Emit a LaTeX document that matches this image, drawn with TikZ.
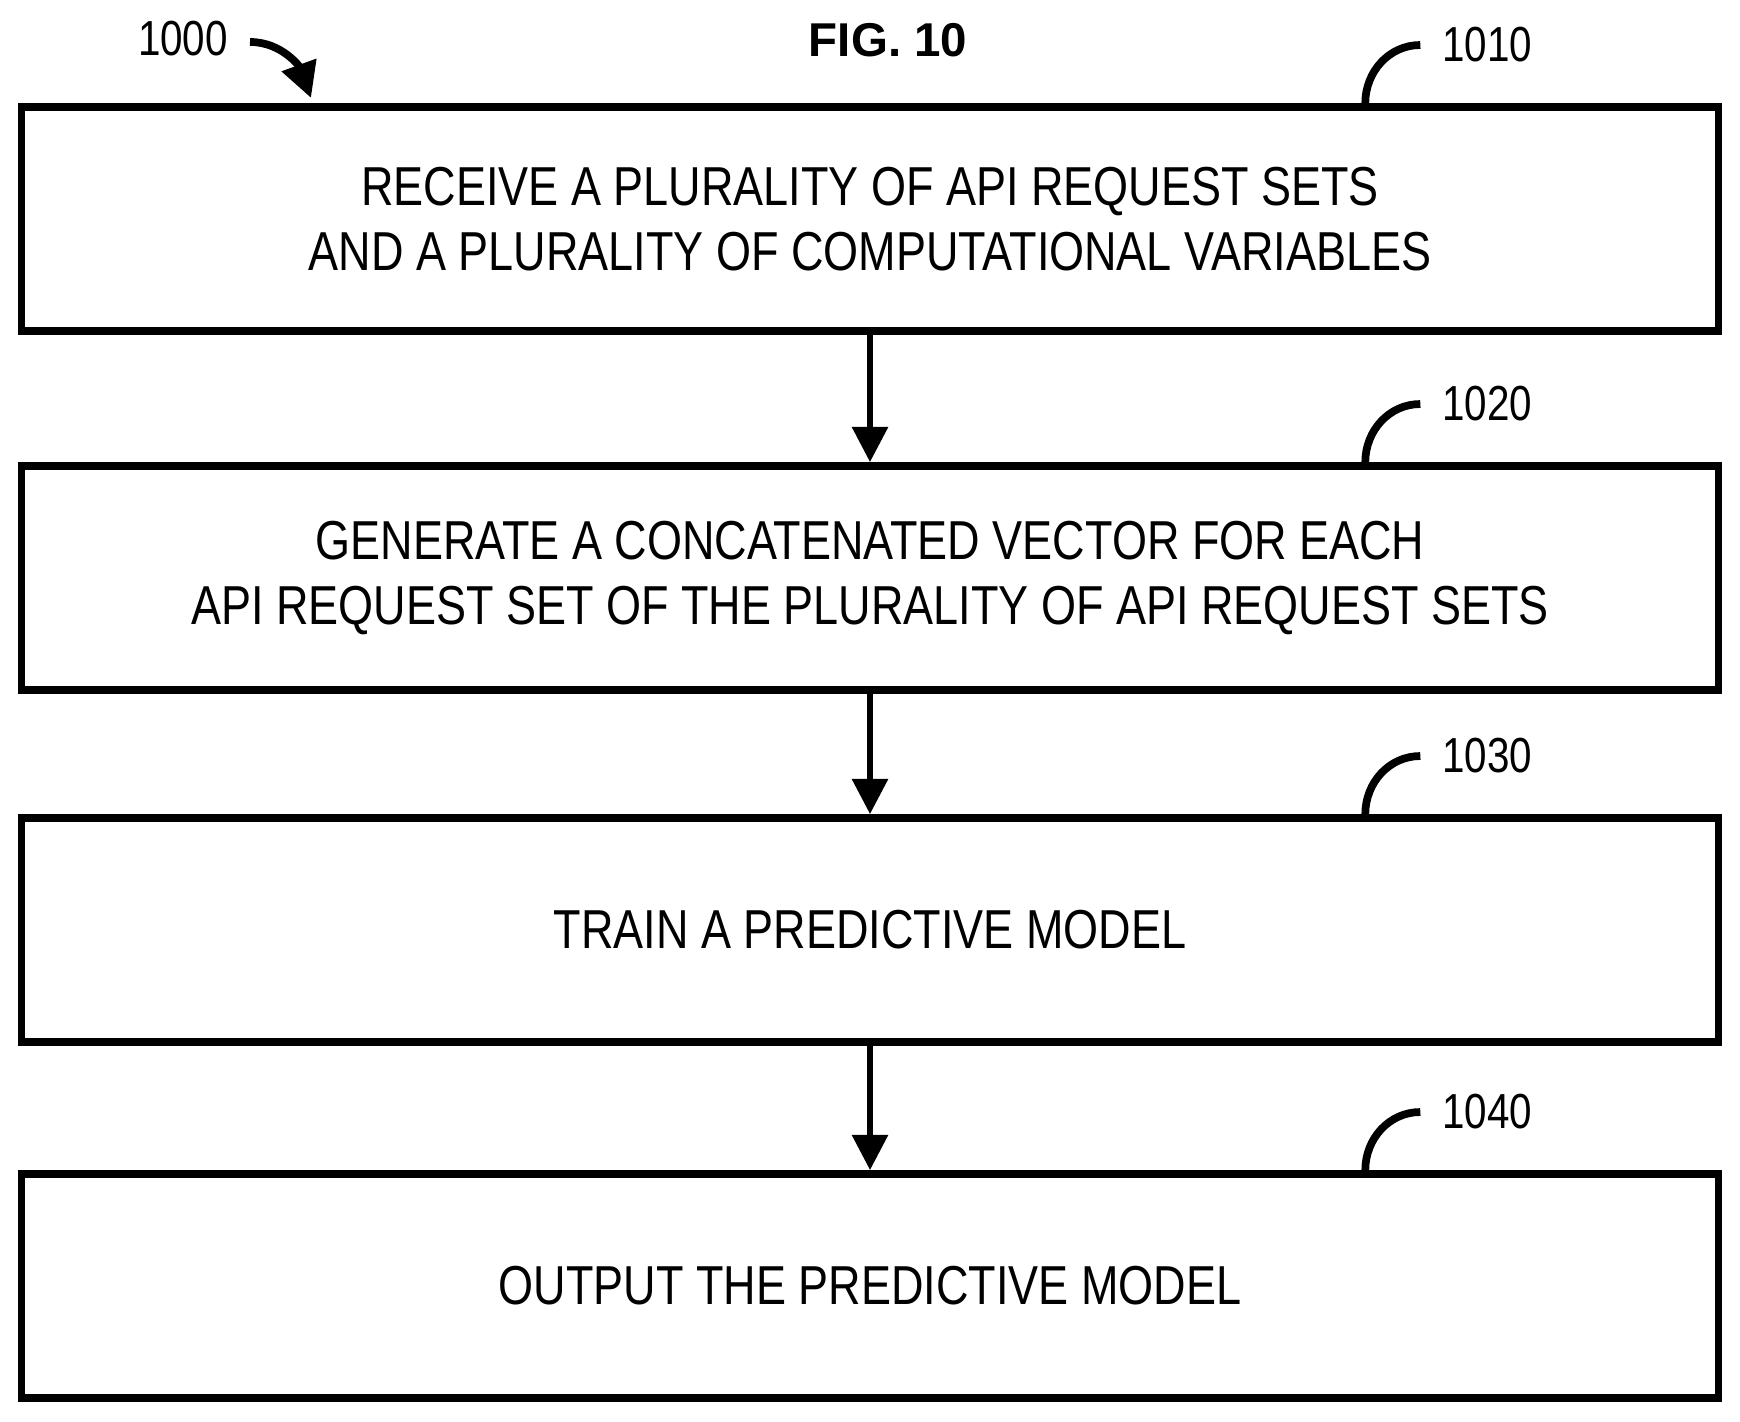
\documentclass[tikz,border=0pt]{standalone}
\usepackage{fontspec}
\setmainfont{Liberation Sans}[FakeStretch=0.82]
\newfontfamily\figfont{Liberation Sans}
\usetikzlibrary{positioning,arrows.meta}
\begin{document}
\begin{tikzpicture}[
  x=0.01cm, y=-0.01cm,
  stepbox/.style={draw=black, line width=2.2pt, minimum width=16.96cm, minimum height=2.24cm,
    inner sep=0pt, align=center, font=\fontsize{15.6}{18.6}\selectfont},
  arrow/.style={-{Triangle[length=10pt,width=10pt]}, line width=1.6pt},
  hook/.style={line width=2.2pt},
  lbl/.style={font=\fontsize{14}{16}\selectfont, inner sep=0pt}
]
\useasboundingbox (0,0) rectangle (1740,1422);

% title and reference numeral
\node[font=\figfont\bfseries\fontsize{13.5}{16}\selectfont] (fig) at (888,40) {FIG. 10};
\node[lbl] (n1000) at (183,39) {1000};
\coordinate (a0) at (250,42);
\coordinate (a1) at (311,98);
\draw[arrow, line width=2.2pt] (a0) to[out=0, in=110] (a1);

% steps
\node[stepbox] (s1) at (870,219) {RECEIVE A PLURALITY OF API REQUEST SETS\\AND A PLURALITY OF COMPUTATIONAL VARIABLES};
\node[stepbox] (s2) at (870,578) {GENERATE A CONCATENATED VECTOR FOR EACH\\API REQUEST SET OF THE PLURALITY OF API REQUEST SETS};
\node[stepbox] (s3) at (870,930) {TRAIN A PREDICTIVE MODEL};
\node[stepbox] (s4) at (870,1286) {OUTPUT THE PREDICTIVE MODEL};

\draw[arrow] (s1) -- (s2);
\draw[arrow] (s2) -- (s3);
\draw[arrow] (s3) -- (s4);

% step numerals
\foreach \s/\t in {s1/1010, s2/1020, s3/1030, s4/1040} {
  \node[lbl] (l\t) at ([xshift=6.17cm, yshift=0.58cm]\s.north) {\t};
  \draw[hook] ([xshift=4.95cm]\s.north) to[out=90, in=180] ([xshift=5.5cm, yshift=0.58cm]\s.north);
}
\end{tikzpicture}
\end{document}
